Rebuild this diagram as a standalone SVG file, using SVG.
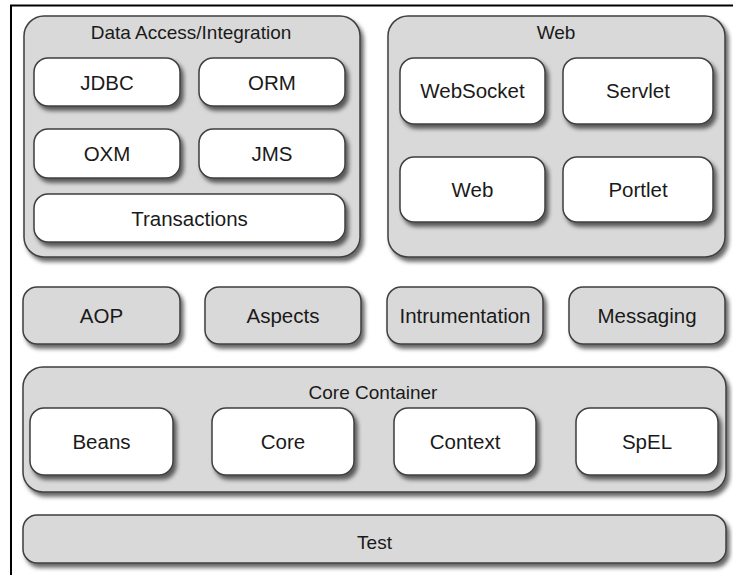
<svg xmlns="http://www.w3.org/2000/svg" width="733" height="575" viewBox="0 0 733 575">
<defs>
<filter id="sh" x="-10%" y="-10%" width="125%" height="135%">
<feDropShadow dx="3" dy="4" stdDeviation="2" flood-color="#000" flood-opacity="0.6"/>
</filter>
<style>
.grp{fill:#d9d9d9;stroke:#3f3f3f;stroke-width:1.5;filter:url(#sh)}
.gnode{fill:#d9d9d9;stroke:#3f3f3f;stroke-width:1.5;filter:url(#sh)}
.wnode{fill:#ffffff;stroke:#3f3f3f;stroke-width:1.5;filter:url(#sh)}
text{font-family:"Liberation Sans",Arial,Helvetica,sans-serif;fill:#1a1a1a;text-anchor:middle}
.t{font-size:19px}
.l{font-size:20.5px}
</style>
</defs>
<rect width="733" height="575" fill="#fff"/>
<path d="M11,575 V5.5 H733" fill="none" stroke="#000" stroke-width="2"/>

<g id="data-access">
<rect class="grp" x="24" y="16" width="336" height="241" rx="20"/>
<text class="t" x="191" y="39">Data Access/Integration</text>
</g>
<g id="jdbc"><rect class="wnode" x="34" y="58" width="146" height="48" rx="14"/><text class="l" x="107" y="90">JDBC</text></g>
<g id="orm"><rect class="wnode" x="199" y="58" width="146" height="48" rx="14"/><text class="l" x="272" y="90">ORM</text></g>
<g id="oxm"><rect class="wnode" x="34" y="129" width="146" height="49" rx="14"/><text class="l" x="107" y="161">OXM</text></g>
<g id="jms"><rect class="wnode" x="199" y="129" width="146" height="49" rx="14"/><text class="l" x="272" y="161">JMS</text></g>
<g id="transactions"><rect class="wnode" x="34" y="194" width="311" height="48" rx="14"/><text class="l" x="189.5" y="225.5">Transactions</text></g>

<g id="web-group">
<rect class="grp" x="388" y="16" width="337" height="241" rx="20"/>
<text class="t" x="556" y="39">Web</text>
</g>
<g id="websocket"><rect class="wnode" x="400" y="58" width="145" height="66" rx="14"/><text class="l" x="472.5" y="98">WebSocket</text></g>
<g id="servlet"><rect class="wnode" x="563" y="58" width="150" height="66" rx="14"/><text class="l" x="638" y="98">Servlet</text></g>
<g id="web"><rect class="wnode" x="400" y="157" width="145" height="65" rx="14"/><text class="l" x="472.5" y="197">Web</text></g>
<g id="portlet"><rect class="wnode" x="563" y="157" width="150" height="65" rx="14"/><text class="l" x="638" y="197">Portlet</text></g>

<g id="aop"><rect class="gnode" x="23" y="287" width="157" height="57" rx="14"/><text class="l" x="101.5" y="323">AOP</text></g>
<g id="aspects"><rect class="gnode" x="205" y="287" width="156" height="57" rx="14"/><text class="l" x="283" y="323">Aspects</text></g>
<g id="instrumentation"><rect class="gnode" x="387" y="287" width="156" height="57" rx="14"/><text class="l" x="465" y="323">Intrumentation</text></g>
<g id="messaging"><rect class="gnode" x="569" y="287" width="156" height="57" rx="14"/><text class="l" x="647" y="323">Messaging</text></g>

<g id="core-container">
<rect class="grp" x="23" y="367" width="703" height="125" rx="20"/>
<text class="t" x="373" y="399">Core Container</text>
</g>
<g id="beans"><rect class="wnode" x="30" y="408" width="143" height="67" rx="14"/><text class="l" x="101.5" y="449">Beans</text></g>
<g id="core"><rect class="wnode" x="212" y="408" width="142" height="67" rx="14"/><text class="l" x="283" y="449">Core</text></g>
<g id="context"><rect class="wnode" x="394" y="408" width="142" height="67" rx="14"/><text class="l" x="465" y="449">Context</text></g>
<g id="spel"><rect class="wnode" x="576" y="408" width="142" height="67" rx="14"/><text class="l" x="647" y="449">SpEL</text></g>

<g id="test"><rect class="gnode" x="23" y="515" width="703" height="48" rx="14"/><text class="t" x="374.5" y="549">Test</text></g>

<g id="connectors"></g>
</svg>
